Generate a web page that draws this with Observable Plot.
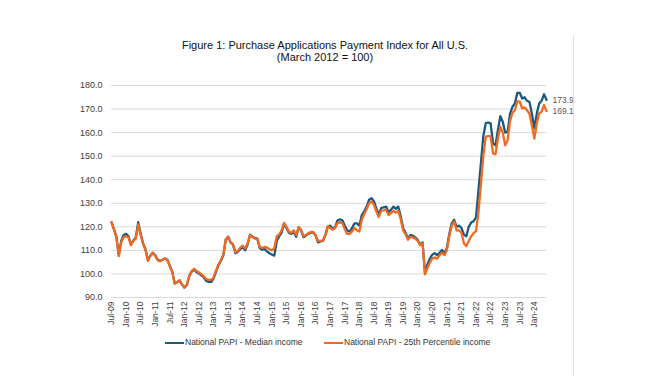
<!DOCTYPE html>
<html><head><meta charset="utf-8">
<script src="https://cdn.jsdelivr.net/npm/d3@7"></script>
<script src="https://cdn.jsdelivr.net/npm/@observablehq/plot@0.6"></script>
<style>
body{margin:0;background:#fff;font-family:"Liberation Sans",Arial,sans-serif;}
#wrap{position:relative;width:650px;height:376px;overflow:hidden;background:#fff;}
#title{position:absolute;left:0;width:650px;top:39px;text-align:center;font-size:11px;line-height:12px;color:#111;}
#chart{position:absolute;left:0;top:0;}
#chart svg{overflow:visible;}
.leg{position:absolute;top:336px;font-size:8.5px;color:#333;white-space:nowrap;line-height:12px;}
.leg i{display:inline-block;width:19px;height:0;border-top:2px solid;vertical-align:middle;margin-right:1px;}
#frame{position:absolute;left:573px;top:35px;width:0;height:341px;border-left:1px solid #e3e3e3;}
</style></head>
<body><div id="wrap">
<div id="chart"></div>
<div id="title">Figure 1: Purchase Applications Payment Index for All U.S.<br>(March 2012 = 100)</div>
<div id="frame"></div>
<div class="leg" style="left:165px"><i style="border-color:#1b5a80"></i>National PAPI - Median income</div>
<div class="leg" style="left:324px"><i style="border-color:#f26a22"></i>National PAPI - 25th Percentile income</div>
</div>
<script>
// Categories: monthly, Jul-09 .. Jun-24
const startMonth = "2009-07-01";
const endMonth = "2024-07-01";
const months = d3.utcMonth.range(new Date(startMonth), new Date(endMonth)).map(d3.utcFormat("%b-%y"));

const seriesNames = ["National PAPI - Median income", "National PAPI - 25th Percentile income"];
const seriesColors = ["#1b5a80", "#f26a22"];

const median = [
122.0,119.0,116.0,108.0,114.0,116.5,117.0,116.0,112.5,114.2,
115.5,122.0,117.0,113.0,110.5,105.8,107.8,109.0,108.0,106.0,
105.6,106.0,106.6,106.0,103.5,101.0,96.0,96.5,97.3,95.6,
94.2,95.3,99.0,101.0,101.8,100.8,100.2,99.4,98.5,97.0,
96.6,96.6,98.0,101.0,103.6,105.5,107.8,114.4,115.8,113.4,
112.4,108.8,109.4,110.6,111.3,110.0,112.5,116.7,115.8,115.3,
115.0,111.0,110.3,110.6,109.5,108.8,108.2,107.8,114.0,116.0,
117.5,121.2,119.5,117.5,117.0,117.7,115.8,119.8,118.4,115.6,
116.3,117.0,117.5,117.7,116.3,113.4,113.8,114.0,116.5,120.0,
120.5,119.1,119.8,122.7,123.2,122.8,120.5,118.4,118.1,119.5,
121.5,121.5,120.5,125.0,126.6,128.6,131.5,132.2,130.8,127.8,
125.2,128.0,128.3,128.6,126.2,127.2,128.6,127.6,128.6,124.5,
119.5,117.5,115.0,116.6,116.3,115.5,114.5,112.4,113.4,100.2,
104.0,106.5,108.2,108.8,108.0,109.0,110.2,108.8,110.9,117.0,
121.5,123.0,120.1,120.5,119.5,116.7,116.0,120.0,121.8,122.4,
124.0,135.5,147.0,158.5,164.0,164.3,163.9,155.5,154.6,161.0,
167.0,164.6,160.0,160.4,168.0,171.0,172.4,176.9,176.9,174.5,
175.0,173.5,173.0,168.0,161.8,168.1,172.4,173.5,176.3,173.9
];

const pct25 = [
122.0,119.0,115.5,107.6,113.5,115.6,116.0,115.5,112.2,114.0,
115.0,121.0,116.5,112.7,110.0,105.6,107.6,108.8,107.8,105.8,
105.4,106.0,106.5,105.8,103.2,100.8,95.8,96.5,97.3,95.5,
94.2,95.5,99.3,101.3,102.2,101.2,100.6,99.9,99.0,97.8,
97.5,97.5,98.5,101.5,104.0,105.8,108.2,114.6,115.6,113.4,
112.6,109.2,109.8,111.2,112.0,110.8,113.0,116.5,115.6,115.0,
114.8,111.5,111.0,111.5,111.2,110.5,110.0,111.0,116.0,116.8,
118.5,121.7,120.0,118.0,117.5,118.5,116.5,119.8,118.8,116.0,
116.5,117.3,117.8,117.8,116.5,114.0,114.0,114.2,116.5,120.3,
119.5,118.8,119.5,121.5,122.0,121.5,119.0,117.0,117.0,118.0,
119.5,118.5,118.0,123.0,125.5,127.5,130.0,130.8,129.3,126.5,
124.2,126.8,127.0,127.3,125.0,125.8,126.8,126.0,126.8,123.2,
118.5,116.8,114.5,115.8,115.5,115.0,114.0,112.2,113.0,99.8,
102.5,104.8,106.5,107.0,106.5,108.0,109.0,108.0,110.0,116.0,
120.5,122.3,118.5,118.5,117.5,113.0,111.8,114.0,116.0,117.3,
118.2,126.0,138.0,150.0,158.3,158.5,158.5,151.2,150.8,157.5,
162.5,160.0,154.6,156.8,165.0,168.4,169.5,173.4,173.1,170.3,
170.7,169.5,168.0,163.0,157.5,163.9,168.1,168.9,171.7,169.1
];

const xTickLabels = ["Jul-09","Jan-10","Jul-10","Jan-11","Jul-11","Jan-12","Jul-12","Jan-13","Jul-13","Jan-14","Jul-14","Jan-15","Jul-15","Jan-16","Jul-16","Jan-17","Jul-17","Jan-18","Jul-18","Jan-19","Jul-19","Jan-20","Jul-20","Jan-21","Jul-21","Jan-22","Jul-22","Jan-23","Jul-23","Jan-24"];
const yTicks = [90,100,110,120,130,140,150,160,170,180];

const rows = [];
months.forEach((m, i) => {
  rows.push({month: m, value: median[i], series: seriesNames[0]});
  rows.push({month: m, value: pct25[i], series: seriesNames[1]});
});
const lastIdx = months.length - 1;
const endLabels = [
  {month: months[lastIdx], value: median[lastIdx], series: seriesNames[0]},
  {month: months[lastIdx], value: pct25[lastIdx], series: seriesNames[1]}
];

const chart = Plot.plot({
  width: 650,
  height: 376,
  marginLeft: 111,
  marginRight: 104,
  marginTop: 85,
  marginBottom: 79,
  style: {fontFamily: "'Liberation Sans', Arial, sans-serif", fontSize: "8.5px", color: "#595959", background: "transparent", overflow: "visible"},
  x: {type: "point", domain: months, padding: 0, label: null},
  y: {domain: [90, 180], label: null},
  color: {domain: seriesNames, range: seriesColors},
  marks: [
    Plot.gridY(yTicks, {stroke: "#d9d9d9", strokeOpacity: 1, strokeWidth: 1}),
    Plot.axisY(yTicks, {tickFormat: d3.format(".1f"), tickSize: 0, tickPadding: 9, fill: "#404040", fontSize: 9}),
    Plot.axisX(xTickLabels, {tickSize: 0, tickPadding: 4, tickRotate: -90, fill: "#404040", fontSize: 8.5}),
    Plot.line(rows, {x: "month", y: "value", z: "series", stroke: "series", strokeWidth: 2.3, curve: "linear"}),
    Plot.text(endLabels, {x: "month", y: "value", text: d => d3.format(".1f")(d.value), dx: 6, textAnchor: "start", fill: "#595959", fontSize: 8.5, clip: false})
  ]
});
document.getElementById("chart").appendChild(chart);
</script>
</body></html>
